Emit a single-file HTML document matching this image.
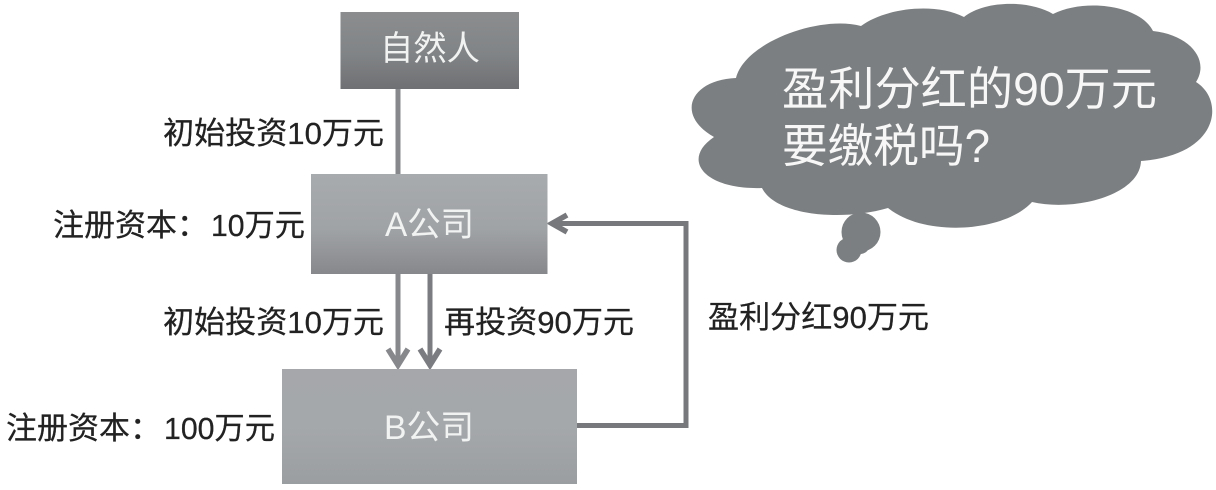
<!DOCTYPE html>
<html lang="zh">
<head>
<meta charset="utf-8">
<style>
html,body{margin:0;padding:0;background:#fff;width:1216px;height:490px;overflow:hidden}
svg{display:block}
text{font-family:"Liberation Sans","Noto Sans CJK SC",sans-serif}
.l{font-size:31px;fill:#222;stroke:#222;stroke-width:.25}
.n{font-size:34px;fill:#f1f2f2}
.c{font-size:46px;fill:#f7f7f7}
</style>
</head>
<body>
<svg width="1216" height="490" viewBox="0 0 1216 490" xmlns="http://www.w3.org/2000/svg">
<defs>
<linearGradient id="g0" x1="0" y1="0" x2="0" y2="1"><stop offset="0" stop-color="#8b8d8f"/><stop offset=".55" stop-color="#818486"/><stop offset="1" stop-color="#6f7073"/></linearGradient>
<linearGradient id="g1" x1="0" y1="0" x2="0" y2="1"><stop offset="0" stop-color="#a8abae"/><stop offset=".55" stop-color="#a0a3a6"/><stop offset="1" stop-color="#87888c"/></linearGradient>
<linearGradient id="g2" x1="0" y1="0" x2="0" y2="1"><stop offset="0" stop-color="#a5a7aa"/><stop offset=".5" stop-color="#a5a8ab"/><stop offset="1" stop-color="#9b9ea1"/></linearGradient>
</defs>

<!-- connectors -->
<g fill="none" stroke="#87888c" stroke-width="5">
<path d="M398 89V174"/>
<path d="M398 274V365"/>
<path d="M430 274V365" stroke="#7b7c81"/>
<path d="M388 349L398 365L408 349" stroke-width="5.5"/>
<path d="M420 349L430 365L440 349" stroke-width="5.5" stroke="#7b7c81"/>
<path d="M577 425.500H686V223.500H553" stroke="#77787c"/>
<path d="M567 215L552 223.500L567 232" stroke-width="5.500" stroke="#77787c"/>
</g>

<!-- boxes -->
<rect x="340.500" y="12" width="178.500" height="77" fill="url(#g0)"/>
<rect x="311" y="174" width="236.500" height="100" fill="url(#g1)"/>
<rect x="282" y="369" width="295" height="115" fill="url(#g2)"/>

<!-- cloud -->
<g fill="#7c7f81">
<path d="M736 78C745 42 820 15 861 26C885 8 935 2 964 17C985 0 1030 0 1053 14C1085-2 1140 5 1153 31C1190 35 1210 60 1196 82C1225 100 1220 155 1141 161C1140 195 1075 212 1032 202C1005 232 925 238 888 208C840 222 775 215 762 188C705 190 680 160 714 137C675 115 690 80 736 78Z"/>
<circle cx="861" cy="232" r="19.500"/>
<circle cx="849" cy="250" r="12.500"/>
<circle cx="860" cy="244" r="10"/>
</g>

<!-- node labels -->
<text class="n" x="380" y="60" textLength="100" lengthAdjust="spacingAndGlyphs">自然人</text>
<text class="n" x="385" y="236" textLength="89" lengthAdjust="spacingAndGlyphs">A公司</text>
<text class="n" x="384" y="439" textLength="90" lengthAdjust="spacingAndGlyphs">B公司</text>

<!-- connector labels -->
<text class="l" x="163" y="144" textLength="221" lengthAdjust="spacingAndGlyphs">初始投资10万元</text>
<text class="l" x="53" y="236" textLength="155" lengthAdjust="spacingAndGlyphs">注册资本：</text>
<text class="l" x="211" y="236" textLength="94" lengthAdjust="spacingAndGlyphs">10万元</text>
<text class="l" x="163" y="333" textLength="221" lengthAdjust="spacingAndGlyphs">初始投资10万元</text>
<text class="l" x="444" y="333" textLength="190" lengthAdjust="spacingAndGlyphs">再投资90万元</text>
<text class="l" x="708" y="328" textLength="221" lengthAdjust="spacingAndGlyphs">盈利分红90万元</text>
<text class="l" x="6" y="439" textLength="155" lengthAdjust="spacingAndGlyphs">注册资本：</text>
<text class="l" x="164" y="439" textLength="111" lengthAdjust="spacingAndGlyphs">100万元</text>

<!-- cloud text -->
<text class="c" x="782" y="105" textLength="375" lengthAdjust="spacingAndGlyphs">盈利分红的90万元</text>
<text class="c" x="782" y="162" textLength="208" lengthAdjust="spacingAndGlyphs">要缴税吗?</text>
</svg>
</body>
</html>
